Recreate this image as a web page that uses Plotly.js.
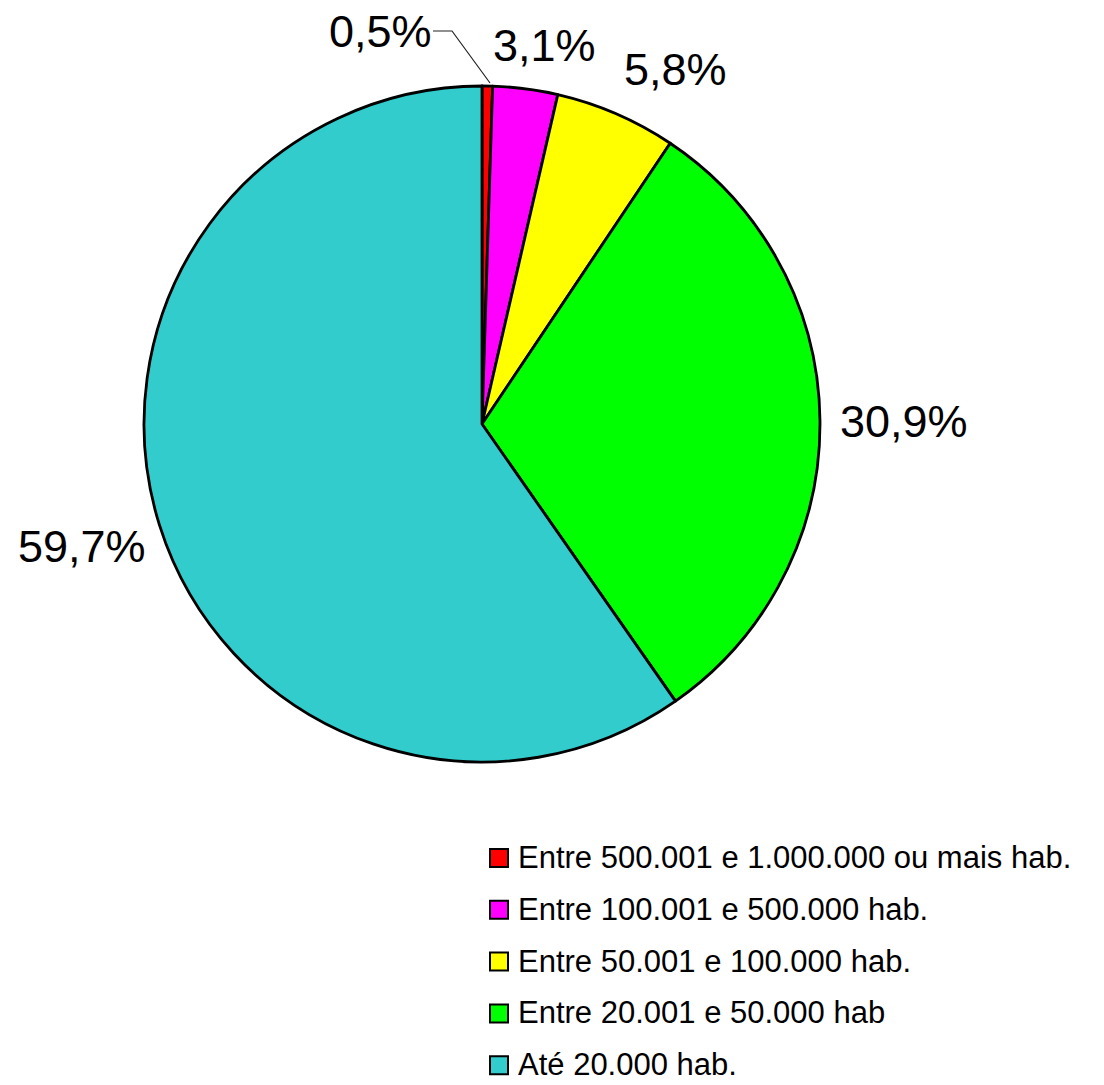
<!DOCTYPE html>
<html>
<head>
<meta charset="utf-8">
<script src="https://cdn.plot.ly/plotly-3.0.1.min.js"></script>
<style>html,body{margin:0;padding:0;background:#fff;}#chart{width:1104px;height:1085px;}</style>
</head>
<body>
<div id="chart"></div>
<script>
const categories = [
  "Entre 500.001 e 1.000.000 ou mais hab.",
  "Entre 100.001 e 500.000 hab.",
  "Entre 50.001 e 100.000 hab.",
  "Entre 20.001 e 50.000 hab",
  "Até 20.000 hab."
];
const shares = [0.5, 3.1, 5.8, 30.9, 59.7];
const colors = ["#ff0000", "#ff00ff", "#ffff00", "#00ff00", "#33cccc"];
const valueLabels = shares.map(v => v.toFixed(1).replace(".", ",") + "%");

const W = 1104, H = 1085;
const px = x => x / W;
const py = y => 1 - y / H;
const FONT = "Liberation Sans, Arial, Helvetica, sans-serif";

// label placement (pixel positions of each percentage label)
const labelPos = [[380, 31], [544, 45], [675, 69], [904, 421], [82, 546]];

const trace = {
  type: "pie",
  labels: categories,
  values: shares,
  sort: false,
  direction: "clockwise",
  rotation: 0,
  marker: { colors: colors, line: { color: "#000", width: 2.8 } },
  textinfo: "none",
  domain: { x: [px(144), px(820)], y: [py(762), py(86)] },
  hoverinfo: "label+percent",
  showlegend: false
};

const annotations = [];
const shapes = [];

valueLabels.forEach((t, i) => {
  annotations.push({
    xref: "paper", yref: "paper",
    x: px(labelPos[i][0]), y: py(labelPos[i][1]),
    xanchor: "center", yanchor: "middle",
    text: t, showarrow: false,
    font: { family: FONT, size: 45, color: "#000" }
  });
});

// leader line for the smallest slice label
shapes.push({
  type: "path", xref: "paper", yref: "paper",
  path: `M ${px(433)} ${py(31)} L ${px(452)} ${py(31)} L ${px(490)} ${py(83)}`,
  line: { color: "#222", width: 1.2 }
});

// legend built from categories/colors
const legX = 490, legY0 = 858, legStep = 51.8, sq = 18;
categories.forEach((c, i) => {
  const cy = legY0 + i * legStep;
  shapes.push({
    type: "rect", xref: "paper", yref: "paper",
    x0: px(legX), x1: px(legX + sq), y0: py(cy + sq / 2), y1: py(cy - sq / 2),
    fillcolor: colors[i], line: { color: "#000", width: 2 }
  });
  annotations.push({
    xref: "paper", yref: "paper",
    x: px(517), y: py(cy - 0.5),
    xanchor: "left", yanchor: "middle",
    borderpad: 0,
    text: c, showarrow: false,
    font: { family: FONT, size: 31, color: "#000" }
  });
});

const layout = {
  width: W, height: H,
  margin: { l: 0, r: 0, t: 0, b: 0 },
  paper_bgcolor: "#fff",
  font: { family: FONT, color: "#000" },
  showlegend: false,
  annotations: annotations,
  shapes: shapes
};

Plotly.newPlot("chart", [trace], layout, { displayModeBar: false, staticPlot: true });
</script>
</body>
</html>
